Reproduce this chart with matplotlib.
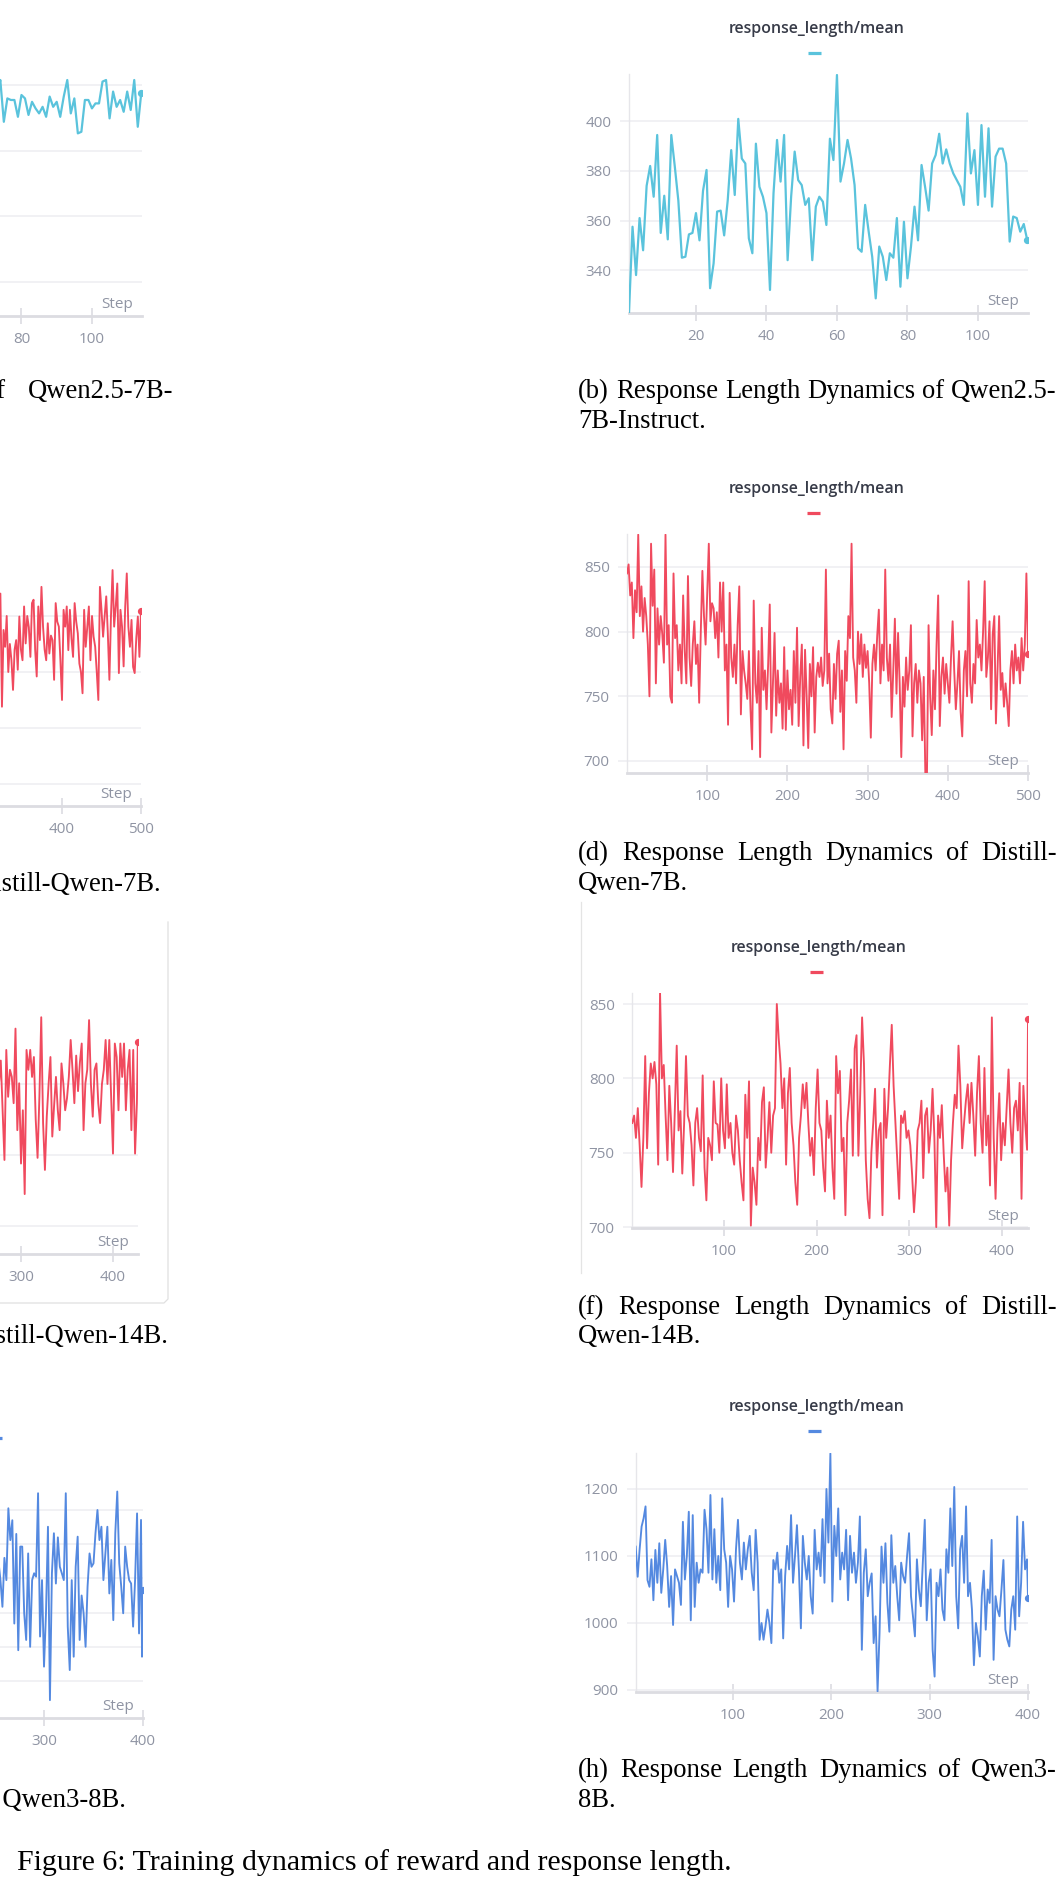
import numpy as np
import matplotlib
matplotlib.use("Agg")
import matplotlib.pyplot as plt
from matplotlib.lines import Line2D

# ─── Data ───────────────────────────────────────────────────────────────────
# (a) reward, Qwen2.5-7B-Instruct (only the right end is on the page)
steps_a = np.arange(73, 115)
reward_a = [0.700,
            0.769, 0.610, 0.699, 0.693, 0.693, 0.629, 0.712, 0.699, 0.636, 0.686,
            0.661, 0.642, 0.667, 0.629, 0.706, 0.667, 0.686, 0.629, 0.706, 0.769,
            0.642, 0.699, 0.566, 0.572, 0.693, 0.693, 0.661, 0.680, 0.680, 0.763,
            0.769, 0.623, 0.725, 0.667, 0.693, 0.648, 0.725, 0.655, 0.769, 0.591,
            0.721]

# (b) response length, Qwen2.5-7B-Instruct
steps_b = np.arange(1, 115)
resp_b = [322.8, 357.5, 338.0, 361.0, 348.0, 374.0, 382.0, 369.6, 394.5, 355.0,
          370.0, 352.4, 394.5, 381.7, 368.0, 345.0, 345.4, 354.4, 355.0, 363.0,
          352.0, 372.0, 380.4, 332.7, 342.7, 363.6, 364.0, 354.0, 368.0, 388.4,
          370.3, 401.0, 385.0, 383.0, 352.8, 346.8, 391.0, 373.6, 369.6, 363.0,
          332.0, 371.0, 392.5, 375.7, 394.5, 344.0, 369.6, 387.8, 376.3, 374.3,
          366.3, 369.0, 344.0, 365.6, 369.6, 367.6, 358.2, 393.0, 384.4, 418.7,
          375.7, 383.0, 392.5, 385.0, 374.3, 348.8, 347.4, 366.3, 355.5, 345.4,
          328.6, 349.5, 345.4, 336.0, 346.8, 345.0, 361.0, 333.3, 359.5, 336.7,
          349.5, 365.6, 352.0, 382.4, 373.6, 364.0, 383.0, 386.4, 395.0, 383.0,
          388.7, 383.0, 379.0, 376.3, 373.6, 366.3, 403.2, 379.0, 388.4, 366.3,
          398.5, 369.6, 397.2, 365.6, 385.8, 389.0, 389.0, 383.0, 351.5, 361.6,
          361.0, 355.5, 358.6, 352.0]

# (c) reward, Distill-Qwen-7B (right end only)
steps_c = np.arange(320, 501, 2)
reward_c = [0.660,
            0.740, 0.538, 0.675, 0.645, 0.700, 0.600, 0.650, 0.621, 0.568, 0.640,
            0.657, 0.604, 0.699, 0.640, 0.621, 0.717, 0.651, 0.700, 0.680, 0.627,
            0.723, 0.729, 0.640, 0.592, 0.717, 0.657, 0.752, 0.681, 0.640, 0.621,
            0.687, 0.633, 0.665, 0.657, 0.586, 0.723, 0.690, 0.681, 0.620, 0.550,
            0.711, 0.681, 0.717, 0.639, 0.711, 0.660, 0.627, 0.723, 0.690, 0.669,
            0.615, 0.600, 0.562, 0.711, 0.645, 0.680, 0.717, 0.621, 0.700, 0.663,
            0.645, 0.600, 0.550, 0.752, 0.711, 0.663, 0.700, 0.735, 0.669, 0.586,
            0.700, 0.782, 0.681, 0.717, 0.758, 0.598, 0.711, 0.681, 0.610, 0.717,
            0.776, 0.681, 0.645, 0.693, 0.609, 0.598, 0.660, 0.699, 0.627, 0.709]

# (d) response length, Distill-Qwen-7B
steps_d = np.arange(0, 501, 2)
resp_d = [845, 852, 828, 838, 795, 832, 815, 875, 812, 835,
          800, 826, 812, 790, 750, 868, 820, 848, 760, 818,
          790, 812, 798, 776, 875, 790, 805, 750, 745, 845,
          795, 805, 770, 790, 760, 828, 785, 760, 843, 780,
          758, 790, 808, 775, 790, 745, 800, 847, 812, 790,
          828, 868, 808, 822, 818, 795, 815, 780, 838, 800,
          838, 770, 790, 728, 830, 780, 765, 790, 760, 805,
          835, 736, 785, 770, 760, 748, 785, 740, 709, 824,
          760, 745, 785, 703, 803, 755, 770, 740, 775, 821,
          722, 760, 799, 735, 770, 745, 760, 725, 788, 724,
          770, 740, 755, 728, 785, 745, 803, 727, 765, 790,
          712, 786, 750, 710, 775, 750, 788, 722, 765, 776,
          765, 780, 758, 770, 848, 760, 783, 740, 729, 775,
          748, 783, 793, 738, 770, 709, 785, 762, 812, 795,
          868, 780, 770, 745, 800, 775, 798, 765, 790, 772,
          785, 760, 718, 775, 790, 770, 797, 817, 760, 790,
          770, 848, 780, 762, 790, 734, 770, 810, 752, 799,
          760, 703, 765, 742, 780, 755, 770, 805, 719, 760,
          775, 745, 770, 760, 716, 765, 690, 688, 805, 750,
          720, 770, 740, 790, 828, 727, 765, 780, 752, 775,
          760, 745, 780, 808, 770, 740, 760, 785, 738, 719,
          770, 785, 750, 839, 760, 745, 775, 760, 809, 780,
          790, 770, 800, 839, 765, 780, 808, 740, 798, 812,
          729, 770, 812, 755, 768, 742, 760, 745, 727, 770,
          785, 760, 790, 770, 780, 760, 795, 770, 790, 845,
          783]

# (e) reward, Distill-Qwen-14B (right end only)
steps_e = np.append(np.arange(276, 427, 2), 427)
reward_e = [0.500, 0.533, 0.463, 0.393, 0.548, 0.482, 0.520, 0.510, 0.473, 0.578,
            0.435, 0.501, 0.388, 0.463, 0.345, 0.548, 0.520, 0.548, 0.510, 0.538,
            0.450, 0.396, 0.482, 0.594, 0.445, 0.379, 0.454, 0.500, 0.538, 0.426,
            0.470, 0.510, 0.463, 0.435, 0.529, 0.501, 0.463, 0.480, 0.510, 0.562,
            0.520, 0.473, 0.540, 0.490, 0.530, 0.557, 0.435, 0.501, 0.520, 0.590,
            0.500, 0.454, 0.520, 0.529, 0.473, 0.445, 0.500, 0.520, 0.562, 0.500,
            0.562, 0.482, 0.402, 0.557, 0.538, 0.463, 0.557, 0.510, 0.557, 0.463,
            0.520, 0.548, 0.435, 0.548, 0.402, 0.473,
            0.559]

# (f) response length, Distill-Qwen-14B
steps_f = np.append(np.arange(1, 428, 2), 428)
resp_f = [770, 775, 760, 780, 755, 727, 760, 815, 753, 790,
          810, 800, 811, 796, 742, 858, 800, 809, 775, 745,
          795, 770, 737, 780, 822, 765, 778, 736, 770, 815,
          775, 770, 755, 728, 770, 780, 760, 751, 802, 740,
          718, 760, 755, 745, 798, 770, 769, 750, 800, 765,
          753, 796, 760, 770, 750, 742, 775, 765, 745, 730,
          718, 789, 760, 798, 701, 740, 730, 715, 760, 745,
          784, 794, 740, 760, 784, 750, 775, 780, 850, 827,
          810, 780, 800, 742, 790, 807, 770, 755, 730, 715,
          760, 775, 796, 780, 797, 770, 748, 760, 735, 780,
          806, 770, 765, 740, 724, 785, 760, 775, 740, 719,
          815, 790, 805, 751, 760, 708, 770, 785, 806, 748,
          820, 829, 748, 790, 841, 810, 745, 719, 706, 750,
          770, 793, 740, 765, 770, 708, 793, 760, 780, 809,
          836, 795, 770, 745, 719, 775, 770, 778, 760, 765,
          755, 735, 710, 730, 765, 770, 785, 733, 775, 780,
          750, 765, 793, 760, 700, 775, 760, 782, 750, 724,
          740, 701, 745, 770, 789, 780, 822, 795, 753, 770,
          785, 796, 770, 797, 775, 748, 790, 815, 770, 750,
          807, 755, 775, 728, 841, 760, 719, 765, 790, 745,
          770, 755, 780, 806, 770, 750, 780, 785, 765, 797,
          719, 795, 770, 752,
          840]

# (g) reward, Qwen3-8B (right end only)
steps_g = np.append(np.arange(254, 399, 2), [399, 400])
reward_g = [0.450,
            0.395, 0.317, 0.460, 0.395, 0.605, 0.512, 0.570, 0.268, 0.530, 0.190,
            0.493, 0.493, 0.298, 0.220, 0.473, 0.200, 0.395, 0.415, 0.405, 0.649,
            0.230, 0.395, 0.142, 0.298, 0.551, 0.044, 0.415, 0.532, 0.385, 0.520,
            0.434, 0.415, 0.395, 0.649, 0.259, 0.132, 0.395, 0.171, 0.434, 0.522,
            0.220, 0.350, 0.298, 0.200, 0.376, 0.473, 0.434, 0.444, 0.532, 0.600,
            0.512, 0.551, 0.395, 0.473, 0.551, 0.356, 0.454, 0.278, 0.532, 0.654,
            0.444, 0.376, 0.298, 0.493, 0.434, 0.395, 0.385, 0.259, 0.395, 0.590,
            0.239, 0.571,
            0.171, 0.366]

# (h) response length, Qwen3-8B
steps_h = np.append(np.arange(1, 400, 2), 400)
resp_h = [1114, 1069, 1110, 1144, 1156, 1174, 1064, 1054, 1095, 1034,
          1109, 1060, 1119, 1045, 1080, 1124, 1085, 1024, 1070, 997,
          1080, 1070, 1060, 1027, 1151, 1065, 1100, 1166, 1004, 1161,
          1024, 1090, 1060, 1080, 1075, 1169, 1140, 1075, 1191, 1065,
          1140, 1060, 1100, 1049, 1186, 1110, 1090, 1024, 1100, 1080,
          1032, 1110, 1154, 1090, 1065, 1120, 1080, 1110, 1130, 1075,
          1049, 1139, 1090, 975, 1000, 975, 995, 1020, 1000, 970,
          1094, 1080, 1105, 1060, 1080, 977, 1070, 1115, 1080, 1161,
          1060, 1100, 1146, 1080, 992, 1130, 1090, 1065, 1100, 1040,
          1014, 1139, 1080, 1105, 1070, 1155, 1060, 1200, 1120, 1253,
          1032, 1145, 1100, 1171, 1065, 1105, 1080, 1139, 1034, 1130,
          1075, 1105, 1060, 1090, 1159, 960, 1075, 1110, 1040, 1060,
          1074, 970, 1010, 898, 985, 1114, 1060, 1119, 1030, 987,
          1131, 1060, 1085, 1040, 1004, 1090, 1070, 1060, 1100, 1134,
          1040, 1010, 980, 1095, 1050, 1025, 1090, 1154, 1004, 1060,
          1080, 960, 920, 1060, 1040, 1080, 1020, 1004, 1110, 1075,
          1171, 1085, 1203, 1040, 992, 1110, 1130, 1060, 1174, 1040,
          1060, 1020, 937, 1000, 980, 950, 1040, 1078, 990, 1050,
          1030, 1124, 945, 1040, 1020, 1010, 1050, 1094, 990, 975,
          965, 1020, 1040, 990, 1159, 1010, 1060, 1151, 1080, 1095,
          1038]

CYAN = "#5ac3dc"
RED = "#f04a5e"
BLUE = "#5489e0"
TICK_C = "#8f94a3"
GRID_C = "#eeeef1"
AXIS_C = "#dcdce1"
SANS = ["Open Sans", "DejaVu Sans"]
SERIF = ["Liberation Serif", "DejaVu Serif"]

# ─── Figure in pixel units ─────────────────────────────────────────────────
W, H = 1063, 1894
fig = plt.figure(figsize=(W / 100, H / 100), dpi=100)
fig.patch.set_facecolor("white")


def fx(x):
    return x / W


def fy(y):
    return 1 - y / H


def panel(box, steps, values, color, lw, xlim, ylim, xticks, yticks):
    left, top, right, bottom = box
    ax = fig.add_axes([fx(left), fy(bottom), (right - left) / W, (bottom - top) / H])
    ax.plot(steps, values, color=color, lw=lw, zorder=3)
    ax.plot(steps[-1], values[-1], "o", ms=4.2, color=color, zorder=4)
    ax.set_xlim(*xlim)
    ax.set_ylim(*ylim)
    ax.set_xticks(xticks)
    ax.set_yticks(yticks)
    for side in ("top", "right"):
        ax.spines[side].set_visible(False)
    ax.spines["left"].set_color("#e6e6ea")
    ax.spines["left"].set_linewidth(1.0)
    ax.spines["bottom"].set_color(AXIS_C)
    ax.spines["bottom"].set_linewidth(2.0)
    ax.grid(axis="y", color=GRID_C, lw=1.1)
    ax.set_axisbelow(True)
    ax.tick_params(axis="x", direction="inout", length=11.5, width=1.2,
                   color=AXIS_C, labelcolor=TICK_C, labelsize=11, pad=5.5)
    ax.tick_params(axis="y", direction="out", length=6.5, width=1.1,
                   color=GRID_C, labelcolor=TICK_C, labelsize=11, pad=6)
    for lab in ax.get_xticklabels() + ax.get_yticklabels():
        lab.set_family(SANS)
    ax.annotate("Step", xy=(1, 0), xycoords="axes fraction", xytext=(-6.5, 8.5),
                textcoords="offset points", ha="right", va="center",
                fontsize=11, color=TICK_C, family=SANS)
    return ax


def title(cx, cy, color, dash_x):
    fig.text(fx(cx), fy(cy), "response_length/mean", ha="center", va="center",
             fontsize=11.5, weight="semibold", color="#373b48", family=SANS)
    legend_dash(dash_x[0], dash_x[1], cy + 24, color)


def legend_dash(x0, x1, y, color):
    fig.add_artist(Line2D([fx(x0), fx(x1)], [fy(y), fy(y)], transform=fig.transFigure,
                          color=color, lw=2.3, solid_capstyle="butt"))


renderer = fig.canvas.get_renderer()


def justified(text, x0, x1, y, size=19.2):
    words = text.split()
    arts = [fig.text(0, fy(y), w, fontsize=size, family=SERIF, va="baseline") for w in words]
    widths = [a.get_window_extent(renderer).width for a in arts]
    gap = ((x1 - x0) - sum(widths)) / (len(words) - 1)
    x = x0
    for a, w in zip(arts, widths):
        a.set_x(fx(x))
        x += w + gap


def plain(text, x, y, ha="left", size=19.2):
    fig.text(fx(x), fy(y), text, fontsize=size, family=SERIF, va="baseline", ha=ha)


# ─── Left column (mostly cut off by the page edge) ─────────────────────────
panel((-257, 72, 142, 316), steps_a, reward_a, CYAN, 1.6,
      (1, 114.2), (-0.129, 0.7995), [20, 40, 60, 80, 100], [0, 0.25, 0.5, 0.75])
panel((-254, 548, 141, 806), steps_c, reward_c, RED, 1.35,
      (0, 500), (0.3607, 0.8214), [100, 200, 300, 400, 500], [0.4, 0.5, 0.6, 0.7])
panel((-254, 1000, 138, 1254), steps_e, reward_e, RED, 1.35,
      (1, 427.2), (0.2606, 0.6183), [100, 200, 300, 400], [0.3, 0.4, 0.5])
panel((-252, 1480, 143, 1718), steps_g, reward_g, BLUE, 1.35,
      (1, 400), (-0.0082, 0.6877), [100, 200, 300, 400], [0.1, 0.2, 0.3, 0.4, 0.5, 0.6])
legend_dash(-11, 2, 1438, BLUE)

# ─── Right column ──────────────────────────────────────────────────────────
panel((629, 74, 1028, 313), steps_b, resp_b, CYAN, 1.6,
      (1.0, 114.2), (322.7, 419.1), [20, 40, 60, 80, 100], [340, 360, 380, 400])
title(817, 29, CYAN, (808, 821))

panel((627, 534, 1028, 773), steps_d, resp_d, RED, 1.35,
      (0, 500), (690.7, 875.5), [100, 200, 300, 400, 500], [700, 750, 800, 850])
title(817, 489, RED, (807, 820))

panel((632, 993, 1028, 1228), steps_f, resp_f, RED, 1.35,
      (0.75, 428), (699.4, 857.4), [100, 200, 300, 400], [700, 750, 800, 850])
title(819, 948, RED, (810, 823))

panel((636, 1453, 1028, 1692), steps_h, resp_h, BLUE, 1.35,
      (1.3, 400), (897, 1253.7), [100, 200, 300, 400], [900, 1000, 1100, 1200])
title(817, 1407, BLUE, (808, 821))

# panel frames that show at the page
fig.add_artist(Line2D([fx(168), fx(168), fx(164), fx(0)],
                      [fy(922), fy(1299), fy(1303), fy(1303)],
                      transform=fig.transFigure, color="#e0e0e0", lw=0.9))
fig.add_artist(Line2D([fx(581), fx(581)], [fy(902), fy(1273)],
                      transform=fig.transFigure, color="#e4e4e4", lw=0.9))

# ─── Captions ──────────────────────────────────────────────────────────────
justified("(a) Reward Dynamics of Qwen2.5-7B-", -306, 173, 398)
plain("Instruct.", -306, 428)
justified("(b) Response Length Dynamics of Qwen2.5-", 578, 1057, 398)
plain("7B-Instruct.", 578, 428)

plain("(c) Reward Dynamics of Distill-Qwen-7B.", -66.5, 891, ha="center")
justified("(d) Response Length Dynamics of Distill-", 578, 1057, 860)
plain("Qwen-7B.", 578, 890)

plain("(e) Reward Dynamics of Distill-Qwen-14B.", -66.5, 1343, ha="center")
justified("(f) Response Length Dynamics of Distill-", 578, 1057, 1314)
plain("Qwen-14B.", 578, 1343)

plain("(g) Reward Dynamics of Qwen3-8B.", -71, 1807, ha="center")
justified("(h) Response Length Dynamics of Qwen3-", 578, 1057, 1777)
plain("8B.", 578, 1807)

plain("Figure 6: Training dynamics of reward and response length.", 17, 1870, size=21.5)

fig.savefig("out.png", dpi=100)
